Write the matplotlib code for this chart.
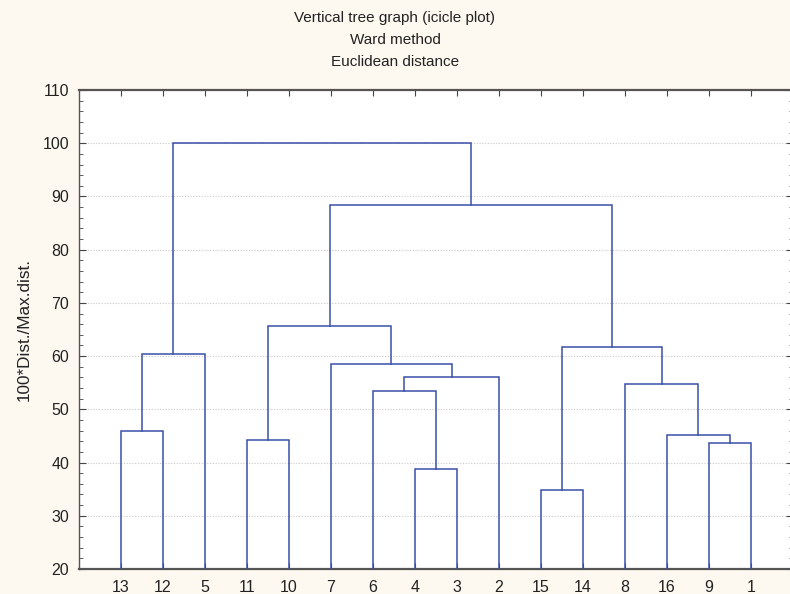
import matplotlib
matplotlib.use("Agg")
import matplotlib.pyplot as plt
from matplotlib.ticker import MultipleLocator

plt.rcParams['font.family'] = ['Liberation Sans', 'DejaVu Sans']

# leaf order along x axis
leaves = ['13', '12', '5', '11', '10', '7', '6', '4', '3', '2',
          '15', '14', '8', '16', '9', '1']

# merges: name, left child, right child, linkage height
merge_names = ['A', 'B', 'C', 'D', 'E', 'F', 'G', 'H', 'I', 'J', 'K', 'L', 'M', 'N', 'R']
merge_left = ['13', 'A', '11', '4', '6', 'E', '7', 'C', '15', '9', '16', '8', 'I', 'H', 'B']
merge_right = ['12', '5', '10', '3', 'D', '2', 'F', 'G', '14', '1', 'J', 'K', 'L', 'M', 'N']
merge_height = [45.9, 60.4, 44.2, 38.7, 53.4, 56.0, 58.5, 65.7, 34.8, 43.6, 45.2, 54.8, 61.7, 88.3, 100.0]

ymin, ymax = 20, 110

fig = plt.figure(figsize=(7.9, 5.94), dpi=100, facecolor='#fdf9f0')
ax = fig.add_axes([0.1, 0.0421, 0.9035, 0.8064])
ax.set_facecolor('white')

pos = {}
for i, lab in enumerate(leaves):
    pos[lab] = (i + 1, ymin)

line_col = '#3b4fa8'
for name, l, r, h in zip(merge_names, merge_left, merge_right, merge_height):
    xl, yl = pos[l]
    xr, yr = pos[r]
    ax.plot([xl, xl, xr, xr], [yl, h, h, yr], color=line_col, lw=1.1,
            solid_joinstyle='miter', zorder=3)
    pos[name] = ((xl + xr) / 2, h)

ax.set_xlim(0, len(leaves) + 1)
ax.set_ylim(ymin, ymax)
ax.set_xticks(range(1, len(leaves) + 1))
ax.set_xticklabels(leaves)
ax.yaxis.set_major_locator(MultipleLocator(10))
ax.yaxis.set_minor_locator(MultipleLocator(2))

ax.grid(axis='y', which='major', color='#c8c8c8', linestyle=(0, (1, 1.5)), lw=0.8, zorder=0)
ax.tick_params(axis='both', which='both', direction='in', colors='#444444',
               labelcolor='#222222', labelsize=11.5)
ax.tick_params(axis='x', which='major', length=4, pad=8, top=True)
ax.tick_params(axis='y', which='major', length=5, pad=7, right=True)
ax.tick_params(axis='y', which='minor', length=3, right=True)

for side in ['top', 'bottom']:
    ax.spines[side].set_color('#555555')
    ax.spines[side].set_linewidth(1.6)
for side in ['left', 'right']:
    ax.spines[side].set_color('#555555')
    ax.spines[side].set_linewidth(1.0)

ax.set_ylabel('100*Dist./Max.dist.', fontsize=12.3, color='#222222', labelpad=8)

fig.text(0.5, 0.97, 'Vertical tree graph (icicle plot)', ha='center', va='center', fontsize=11, color='#222222')
fig.text(0.5, 0.933, 'Ward method', ha='center', va='center', fontsize=11, color='#222222')
fig.text(0.5, 0.896, 'Euclidean distance', ha='center', va='center', fontsize=11, color='#222222')

fig.savefig('out.png', dpi=100, facecolor=fig.get_facecolor())
